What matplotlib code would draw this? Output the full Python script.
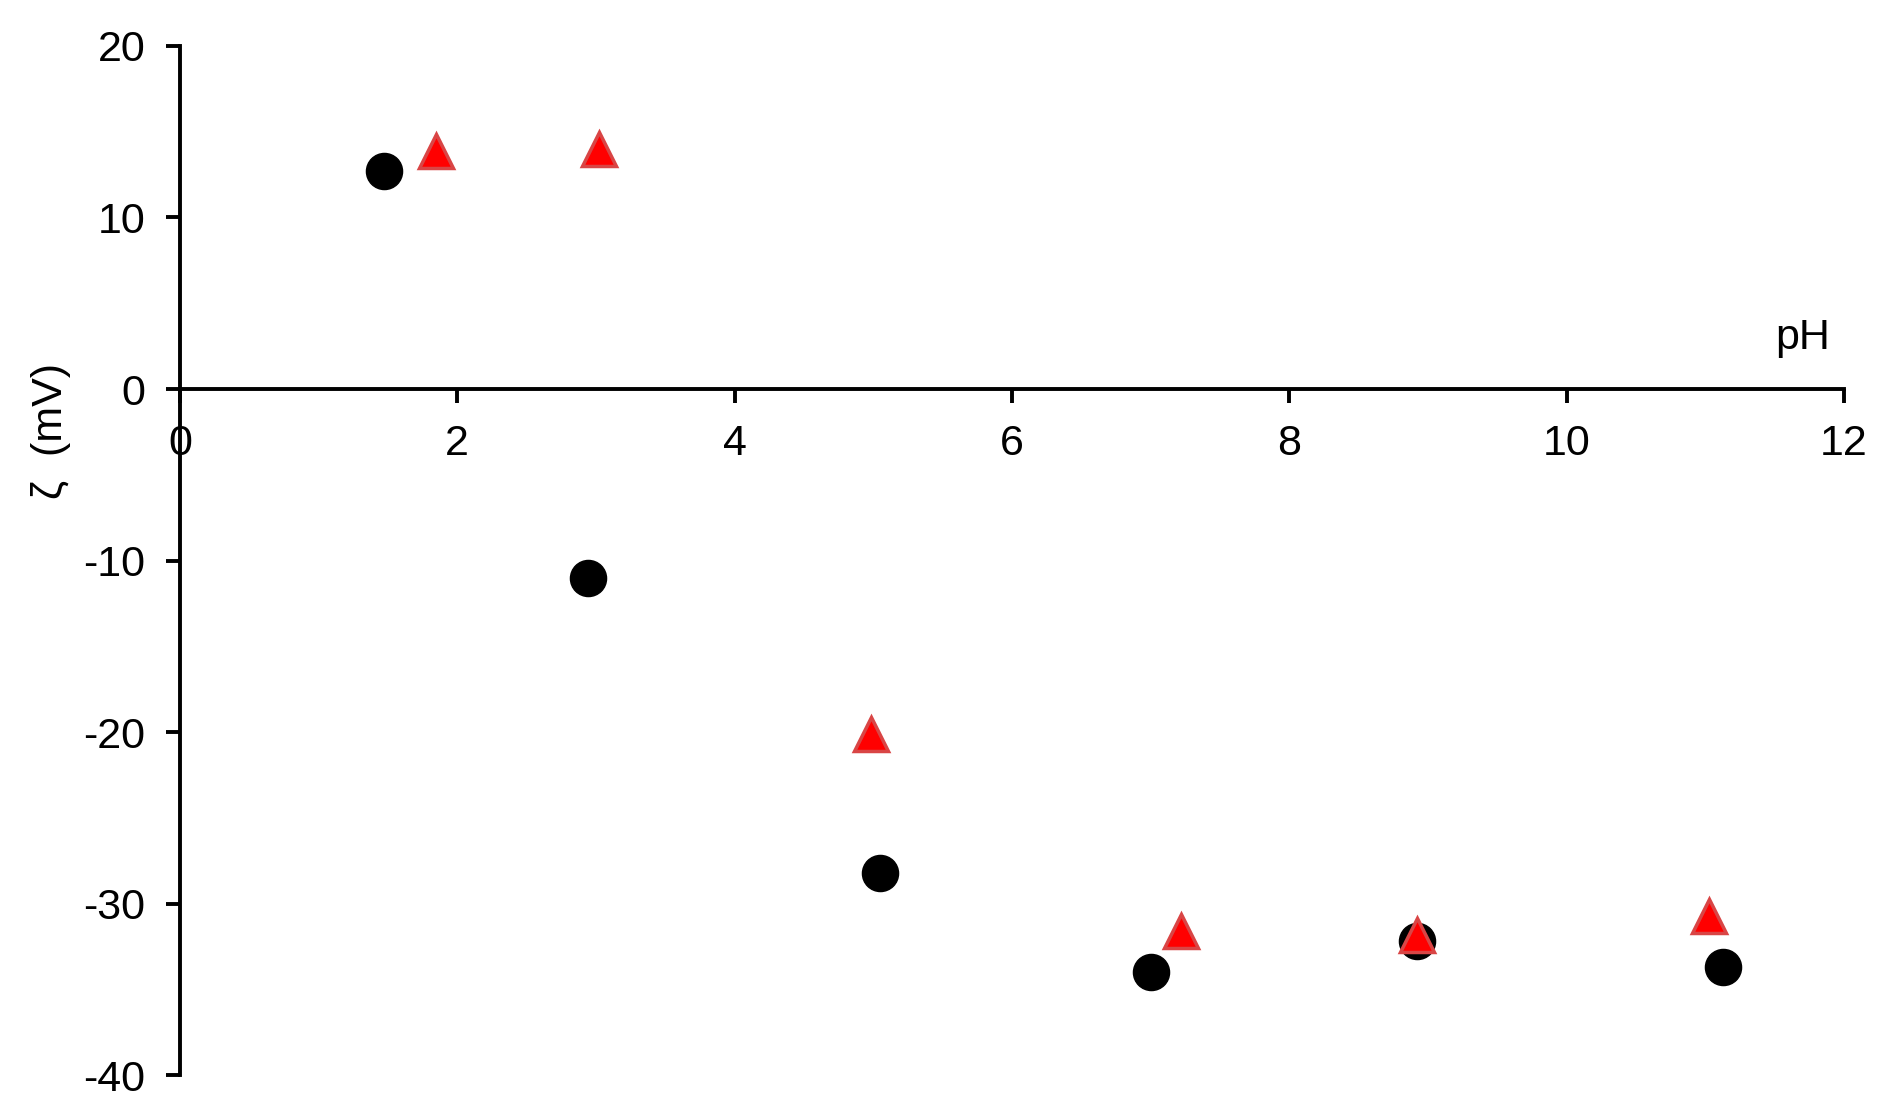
import matplotlib
matplotlib.use('Agg')
import matplotlib.pyplot as plt

plt.rcParams['font.family'] = ['Liberation Sans', 'DejaVu Sans']
plt.rcParams['axes.unicode_minus'] = False

# zeta potential vs pH
ph_circle = [1.47, 2.94, 5.05, 7.00, 8.92, 11.13]
zeta_circle = [12.7, -11.0, -28.2, -34.0, -32.2, -33.7]

ph_triangle = [1.85, 3.02, 4.98, 7.22, 8.92, 11.03]
zeta_triangle = [13.9, 14.0, -20.1, -31.6, -31.8, -30.7]

xticks = [0, 2, 4, 6, 8, 10, 12]
yticks = [-40, -30, -20, -10, 0, 10, 20]

fig = plt.figure(figsize=(19.02, 11.2), dpi=100)
ax = fig.add_axes([0.0946, 0.040, 0.8749, 0.919])

ax.plot(ph_circle, zeta_circle, 'o', color='black', markersize=26, zorder=3)
ax.plot(ph_triangle, zeta_triangle, '^', markerfacecolor='red',
        markeredgecolor='#d94545', markeredgewidth=2.5, markersize=25, zorder=4)

ax.set_xlim(0, 12)
ax.set_ylim(-40, 20)
ax.set_xticks(xticks)
ax.set_yticks(yticks)

ax.spines['top'].set_visible(False)
ax.spines['right'].set_visible(False)
ax.spines['bottom'].set_position(('data', 0))
ax.spines['left'].set_linewidth(2.8)
ax.spines['bottom'].set_linewidth(2.8)

ax.tick_params(axis='both', direction='out', length=10, width=2.8,
               labelsize=31, pad=15)

ax.text(11.7, 3.0, 'pH', fontsize=31, ha='center', va='center')
fig.text(0.027, 0.615, 'ζ  (mV)', fontsize=31, rotation=90,
         ha='center', va='center')

fig.savefig('out.png', dpi=100)
